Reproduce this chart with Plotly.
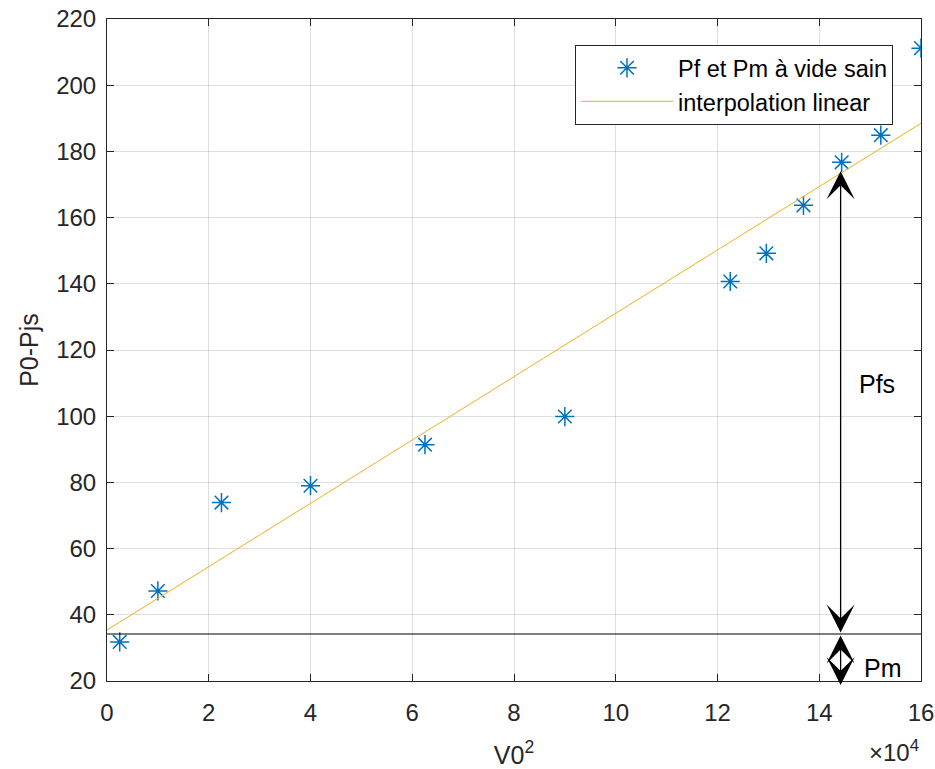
import plotly.graph_objects as go

# Data (x in units of 1e4)
v0_sq = [0.25, 1.0, 2.25, 4.0, 6.25, 9.0, 12.25, 12.96, 13.69, 14.44, 15.21, 16.0]
p0_pjs = [31.8, 47.2, 73.9, 79.0, 91.4, 99.9, 140.7, 149.2, 163.7, 176.7, 184.9, 211.2]
fit_x = [0.0, 16.0]
fit_y = [35.4, 188.5]
pm_level = 34.2
arrow_x = 14.42
pfs_top = 174.0
pm_bottom = 18.8

FONT = "Liberation Sans, Arial, sans-serif"
AX = "#262626"

fig = go.Figure()
fig.add_trace(go.Scatter(
    x=v0_sq, y=p0_pjs, mode="markers", name="Pf et Pm à vide sain",
    marker=dict(symbol="asterisk-open", size=16, color="#0072BD",
                line=dict(color="#0072BD", width=1.5)),
))
fig.add_trace(go.Scatter(
    x=fit_x, y=fit_y, mode="lines", name="interpolation linear",
    line=dict(color="#EDB120", width=1),
))
fig.add_trace(go.Scatter(
    x=fit_x, y=[pm_level, pm_level], mode="lines", showlegend=False,
    line=dict(color="black", width=1.2), hoverinfo="skip",
))

# Arrows
for y_end in (pfs_top, pm_bottom):
    fig.add_annotation(x=arrow_x, y=y_end, ax=arrow_x, ay=pm_level,
                       xref="x", yref="y", axref="x", ayref="y", text="",
                       showarrow=True, arrowside="end+start",
                       arrowhead=3, startarrowhead=3, arrowsize=3.6, startarrowsize=3.6,
                       arrowwidth=1.3, arrowcolor="black")
fig.add_annotation(x=15.13, y=109.6, xref="x", yref="y", text="Pfs", showarrow=False,
                   font=dict(family=FONT, size=25, color="black"))
fig.add_annotation(x=15.25, y=23.9, xref="x", yref="y", text="Pm", showarrow=False,
                   font=dict(family=FONT, size=25, color="black"))
fig.add_annotation(x=1.0, y=-0.106, xref="paper", yref="paper", text="×10<sup>4</sup>",
                   showarrow=False, xanchor="right", yanchor="middle",
                   font=dict(family=FONT, size=24, color=AX))

axis_common = dict(
    showline=True, linecolor=AX, linewidth=1, mirror="ticks",
    ticks="inside", ticklen=7, tickcolor=AX, tickwidth=1,
    showgrid=True, gridcolor="rgba(38,38,38,0.15)", gridwidth=1,
    zeroline=False, tickfont=dict(family=FONT, size=24, color=AX),
    automargin=False,
)
fig.update_xaxes(range=[0, 16], tick0=0, dtick=2, ticklabelstandoff=10,
                 title=dict(text="V0<sup>2</sup>", font=dict(family=FONT, size=25, color=AX), standoff=24),
                 **axis_common)
fig.update_yaxes(range=[20, 220], tick0=20, dtick=20, ticklabelstandoff=5,
                 title=dict(text="P0-Pjs", font=dict(family=FONT, size=25, color=AX), standoff=10),
                 **axis_common)

fig.update_layout(
    width=935, height=769,
    margin=dict(l=107, r=14, t=19, b=88),
    paper_bgcolor="white", plot_bgcolor="white",
    showlegend=True,
    legend=dict(x=0.9656, y=0.9607, xanchor="right", yanchor="top",
                bgcolor="white", bordercolor=AX, borderwidth=1,
                font=dict(family=FONT, size=23.5, color="black"),
                itemwidth=92),
)

fig.write_html("out.html")
